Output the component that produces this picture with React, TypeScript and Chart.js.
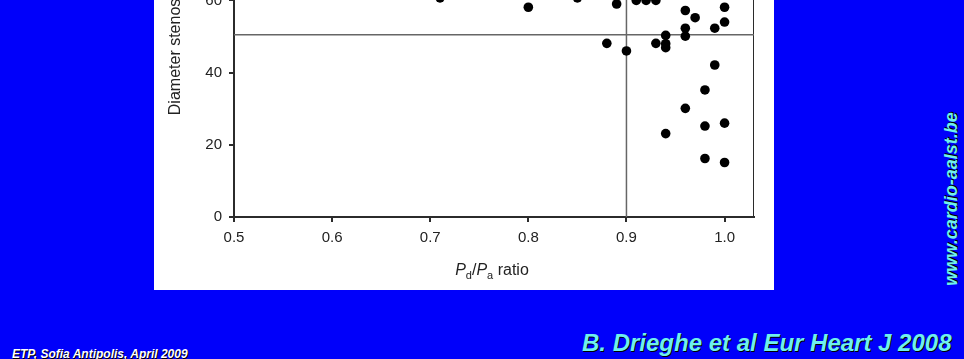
import React, { useEffect, useRef } from "react";
import { Chart, registerables } from "chart.js";

Chart.register(...registerables);

// ---- data ----
const pdPaRatio = [
  0.71, 0.85, 0.8, 0.89, 0.91, 0.92, 0.93, 0.96, 0.97, 1.0, 1.0, 0.96, 0.99, 0.94,
  0.96, 0.88, 0.93, 0.94, 0.94, 0.9, 0.99, 0.98, 0.96, 0.98, 1.0, 0.94, 0.98, 1.0,
];
const diameterStenosis = [
  60.7, 60.7, 58.1, 59.0, 60.0, 60.0, 60.0, 57.2, 55.2, 58.1, 54.0, 52.3, 52.3, 50.3,
  50.1, 48.1, 48.1, 48.0, 46.9, 46.0, 42.1, 35.2, 30.1, 25.2, 26.0, 23.1, 16.2, 15.1,
];
const xTickValues = [0.5, 0.6, 0.7, 0.8, 0.9, 1.0];
const yTickValues = [0, 20, 40, 60, 80, 100];
const xRange = [0.5, 1.03];
const yRange = [0, 100];
const pdPaCutoff = 0.9;
const stenosisCutoff = 50.5;

const yTitle = "Diameter stenosis (%)";
const footLeft = "ETP, Sofia Antipolis, April 2009";
const reference = "B. Drieghe et al Eur Heart J 2008";
const website = "www.cardio-aalst.be";

const FONT = 'Arial, "Liberation Sans", Helvetica, sans-serif';
const AXIS = "#2b2b2b";
const TEXT = "#222222";
const CYAN = "#6ff0ee";

function ScatterChart() {
  const ref = useRef<HTMLCanvasElement | null>(null);
  useEffect(() => {
    if (!ref.current) return;
    const points = pdPaRatio.map((x, i) => ({ x, y: diameterStenosis[i] }));
    const chart = new Chart(ref.current, {
      type: "scatter",
      data: {
        datasets: [
          {
            label: "vessels",
            data: points,
            pointRadius: 4.8,
            pointHoverRadius: 4.8,
            pointBackgroundColor: "#000",
            pointBorderWidth: 0,
            backgroundColor: "#000",
          },
          {
            label: "Pd/Pa cutoff",
            type: "line",
            data: [
              { x: pdPaCutoff, y: yRange[0] },
              { x: pdPaCutoff, y: yRange[1] },
            ],
            borderColor: "#666",
            borderWidth: 1.5,
            pointRadius: 0,
          },
          {
            label: "stenosis cutoff",
            type: "line",
            data: [
              { x: xRange[0], y: stenosisCutoff },
              { x: xRange[1], y: stenosisCutoff },
            ],
            borderColor: "#666",
            borderWidth: 1.5,
            pointRadius: 0,
          },
          {
            label: "frame",
            type: "line",
            data: [
              { x: xRange[1], y: yRange[0] },
              { x: xRange[1], y: yRange[1] },
            ],
            borderColor: AXIS,
            borderWidth: 2,
            pointRadius: 0,
          },
        ],
      },
      options: {
        animation: false,
        responsive: false,
        maintainAspectRatio: false,
        events: [],
        layout: { padding: { top: 14, right: 20, bottom: 0, left: 0 } },
        plugins: { legend: { display: false }, tooltip: { enabled: false }, title: { display: false } },
        scales: {
          x: {
            type: "linear",
            min: xRange[0],
            max: xRange[1],
            afterBuildTicks: (s: any) => {
              s.ticks = xTickValues.map((v) => ({ value: v }));
            },
            afterFit: (s: any) => {
              s.height = 73;
            },
            ticks: {
              autoSkip: false,
              maxRotation: 0,
              padding: 7,
              color: TEXT,
              font: { family: FONT, size: 15 },
              callback: (v: any) => Number(v).toFixed(1),
            },
            grid: { drawOnChartArea: false, drawTicks: true, tickLength: 5, color: AXIS, lineWidth: 2 },
            border: { display: true, color: AXIS, width: 2 },
          },
          y: {
            type: "linear",
            min: yRange[0],
            max: yRange[1],
            afterBuildTicks: (s: any) => {
              s.ticks = yTickValues.map((v) => ({ value: v }));
            },
            afterFit: (s: any) => {
              s.width = 80;
            },
            ticks: {
              autoSkip: false,
              padding: 7,
              color: TEXT,
              font: { family: FONT, size: 15 },
            },
            grid: { drawOnChartArea: false, drawTicks: true, tickLength: 5, color: AXIS, lineWidth: 2 },
            border: { display: true, color: AXIS, width: 2 },
            title: {
              display: true,
              text: yTitle,
              color: TEXT,
              font: { family: FONT, size: 16 },
              padding: { top: 12, bottom: 0 },
            },
          },
        },
      },
    });
    return () => chart.destroy();
  }, []);
  return (
    <canvas
      ref={ref}
      width={620}
      height={450}
      style={{ position: "absolute", left: 0, top: -160, width: 620, height: 450 }}
    />
  );
}

export default function App() {
  const sub: React.CSSProperties = { fontSize: 11, verticalAlign: -4, lineHeight: 0 };
  return (
    <div
      style={{
        position: "fixed",
        left: 0,
        top: 0,
        width: 964,
        height: 359,
        overflow: "hidden",
        background: "#0000fa",
        fontFamily: FONT,
      }}
    >
      <div
        style={{
          position: "absolute",
          left: 154,
          top: 0,
          width: 620,
          height: 290,
          background: "#ffffff",
          overflow: "hidden",
        }}
      >
        <ScatterChart />
        <div
          style={{
            position: "absolute",
            left: 238,
            top: 261,
            width: 200,
            textAlign: "center",
            fontSize: 16,
            lineHeight: "18px",
            color: TEXT,
            whiteSpace: "nowrap",
          }}
        >
          <i>P</i>
          <span style={sub}>d</span>/<i>P</i>
          <span style={sub}>a</span> ratio
        </div>
      </div>
      <div
        style={{
          position: "absolute",
          left: 12,
          top: 348,
          fontSize: 12,
          lineHeight: "12px",
          fontWeight: "bold",
          fontStyle: "italic",
          color: "#fff",
          whiteSpace: "nowrap",
          textShadow: "1px 1px 0 #000",
        }}
      >
        {footLeft}
      </div>
      <div
        style={{
          position: "absolute",
          left: 582,
          top: 331,
          fontSize: 24,
          lineHeight: "24px",
          fontWeight: "bold",
          fontStyle: "italic",
          color: CYAN,
          whiteSpace: "nowrap",
          textShadow: "1px 1px 0 #000",
        }}
      >
        {reference}
      </div>
      <div
        style={{
          position: "absolute",
          left: 951,
          top: 199,
          transform: "translate(-50%, -50%) rotate(-90deg)",
          fontSize: 18,
          lineHeight: "18px",
          fontWeight: "bold",
          fontStyle: "italic",
          color: CYAN,
          whiteSpace: "nowrap",
          textShadow: "1px 1px 0 #000",
        }}
      >
        {website}
      </div>
    </div>
  );
}
